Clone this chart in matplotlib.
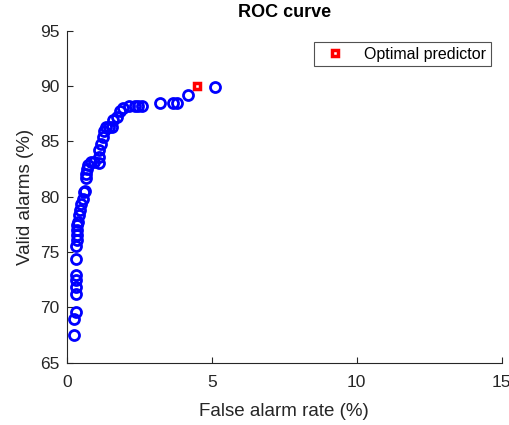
import matplotlib
matplotlib.use("Agg")
import matplotlib.pyplot as plt

plt.rcParams['font.family'] = ['Liberation Sans', 'DejaVu Sans']

far = [0.26, 0.24, 0.33, 0.32, 0.32, 0.32, 0.32, 0.32, 0.33, 0.35, 0.36, 0.36,
       0.37, 0.40, 0.43, 0.45, 0.50, 0.55, 0.58, 0.62, 0.65, 0.68, 0.70, 0.75,
       0.85, 0.95, 1.10, 1.12, 1.12, 1.17, 1.24, 1.30, 1.36, 1.45, 1.55, 1.60,
       1.75, 1.85, 1.95, 2.15, 2.35, 2.45, 2.60, 3.22, 3.66, 3.79, 4.17, 5.11]
valid = [67.5, 68.9, 69.6, 71.2, 71.8, 72.5, 72.9, 74.4, 75.5, 76.1, 76.5, 77.0,
         77.4, 77.7, 78.3, 78.8, 79.3, 79.8, 80.4, 80.5, 81.7, 82.0, 82.5, 82.9,
         83.1, 83.1, 83.0, 83.6, 84.2, 84.8, 85.4, 85.9, 86.3, 86.3, 86.3, 86.9,
         87.2, 87.7, 88.0, 88.2, 88.2, 88.2, 88.2, 88.5, 88.5, 88.5, 89.2, 89.9]
opt_far = [4.48]
opt_valid = [90.0]

xticks = [0, 5, 10, 15]
yticks = [65, 70, 75, 80, 85, 90, 95]

fig = plt.figure(figsize=(5.10, 4.25), dpi=100)
ax = fig.add_axes([0.1308, 0.147, 0.9837 - 0.1308, 0.9278 - 0.147])

ax.plot(far, valid, linestyle='none', marker='o', markersize=7.2,
        markeredgewidth=2.0, markeredgecolor='#0000ff', markerfacecolor='none')
ax.plot(opt_far, opt_valid, linestyle='none', marker='s', markersize=4.0,
        markeredgewidth=2.5, markeredgecolor='#ff0000', markerfacecolor='white',
        label='Optimal predictor')

ax.set_xlim(0, 15)
ax.set_ylim(65, 95)
ax.set_xticks(xticks)
ax.set_yticks(yticks)
dark = '#262626'
for s in ['top', 'right']:
    ax.spines[s].set_visible(False)
for s in ['left', 'bottom']:
    ax.spines[s].set_color(dark)
    ax.spines[s].set_linewidth(0.8)
ax.tick_params(direction='in', length=4, width=0.8, colors=dark, labelsize=12.5)
ax.tick_params(axis='x', pad=9)
ax.tick_params(axis='y', pad=5)

ax.set_xlabel('False alarm rate (%)', fontsize=13.5, color=dark, labelpad=9.5)
ax.set_ylabel('Valid alarms (%)', fontsize=13.5, color=dark, labelpad=4.5)
ax.set_title('ROC curve', fontsize=13, fontweight='bold', color='black', pad=10)

leg = ax.legend(loc='upper right', fontsize=11.5, frameon=True, fancybox=False,
                borderaxespad=0.7, handletextpad=0.8, borderpad=0.3,
                handlelength=2.0)
leg.get_frame().set_edgecolor(dark)
leg.get_frame().set_linewidth(0.8)

fig.savefig('out.png', dpi=100)
